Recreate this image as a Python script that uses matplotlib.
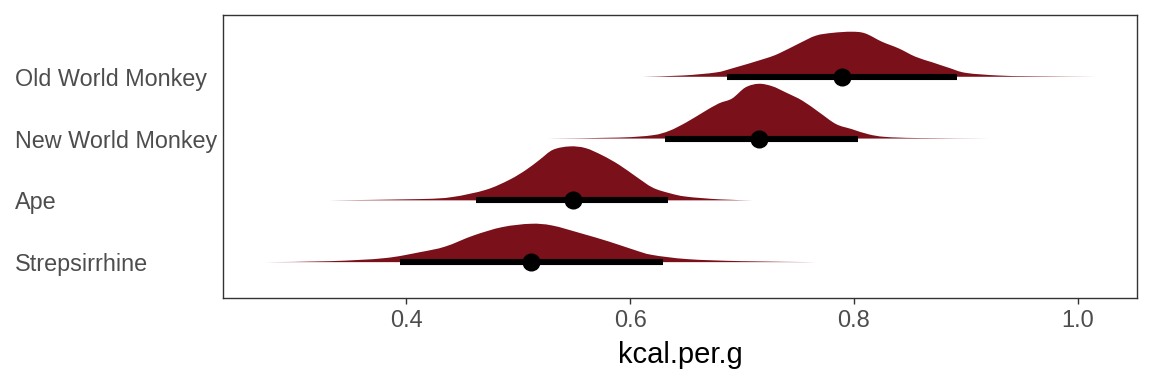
import matplotlib
matplotlib.use("Agg")
import matplotlib.pyplot as plt
from matplotlib.path import Path
from matplotlib.patches import PathPatch
import numpy as np

plt.rcParams['font.family'] = ['Liberation Sans', 'DejaVu Sans']

# categories, bottom to top
clades = ["Strepsirrhine", "Ape", "New World Monkey", "Old World Monkey"]

# density profiles (x value, relative thickness, max = 1)
strep_x = [0.2736, 0.3325, 0.3804, 0.4122, 0.4346, 0.460, 0.4856, 0.511, 0.530,
           0.5557, 0.581, 0.6036, 0.6196, 0.6514, 0.699, 0.766]
strep_d = [0.0, 0.018, 0.072, 0.18, 0.28, 0.48, 0.63, 0.69, 0.66,
           0.52, 0.37, 0.22, 0.13, 0.054, 0.018, 0.0]

ape_x = [0.331, 0.412, 0.441, 0.471, 0.492, 0.507, 0.519, 0.531, 0.546,
         0.560, 0.575, 0.590, 0.605, 0.620, 0.635, 0.650, 0.680, 0.709]
ape_d = [0.0, 0.023, 0.06, 0.19, 0.37, 0.55, 0.73, 0.91, 0.97,
         0.94, 0.81, 0.64, 0.43, 0.23, 0.13, 0.067, 0.018, 0.0]

nwm_x = [0.526, 0.590, 0.620, 0.635, 0.650, 0.665, 0.679, 0.691, 0.703, 0.715,
         0.727, 0.739, 0.754, 0.769, 0.784, 0.798, 0.813, 0.828, 0.858, 0.9205]
nwm_d = [0.0, 0.018, 0.06, 0.14, 0.29, 0.47, 0.63, 0.72, 0.92, 0.985,
         0.94, 0.83, 0.68, 0.47, 0.26, 0.17, 0.077, 0.03, 0.009, 0.0]

owm_x = [0.611, 0.647, 0.6765, 0.691, 0.721, 0.733, 0.751, 0.766, 0.781, 0.798,
         0.810, 0.825, 0.840, 0.855, 0.870, 0.885, 0.900, 0.929, 0.959, 1.016]
owm_d = [0.0, 0.023, 0.077, 0.15, 0.33, 0.42, 0.60, 0.74, 0.79, 0.81,
         0.78, 0.63, 0.51, 0.36, 0.26, 0.16, 0.07, 0.023, 0.009, 0.0]

# point estimate and interval
medians = [0.511, 0.549, 0.715, 0.789]
lower = [0.3946, 0.462, 0.631, 0.6863]
upper = [0.6297, 0.634, 0.804, 0.8917]

dens_x = [strep_x, ape_x, nwm_x, owm_x]
dens_d = [strep_d, ape_d, nwm_d, owm_d]

fill_col = "#7a1019"


def slab_path(xs, ys, y0):
    # smooth outline through the read points (catmull-rom as bezier), closed on baseline
    pts = list(zip(xs, ys))
    verts = [(xs[0], y0)]
    codes = [Path.MOVETO]
    n = len(pts)
    for k in range(n - 1):
        p0 = pts[max(k - 1, 0)]
        p1 = pts[k]
        p2 = pts[k + 1]
        p3 = pts[min(k + 2, n - 1)]
        c1 = (p1[0] + (p2[0] - p0[0]) / 6, max(y0, p1[1] + (p2[1] - p0[1]) / 6))
        c2 = (p2[0] - (p3[0] - p1[0]) / 6, max(y0, p2[1] - (p3[1] - p1[1]) / 6))
        verts += [c1, c2, p2]
        codes += [Path.CURVE4] * 3
    verts += [(xs[-1], y0), (xs[0], y0)]
    codes += [Path.LINETO, Path.CLOSEPOLY]
    return Path(verts, codes)


fig = plt.figure(figsize=(11.52, 3.84), dpi=100)
ax = fig.add_axes([0.1936, 0.224, 0.987 - 0.1936, 0.961 - 0.224])

for i, name in enumerate(clades):
    y0 = i + 1
    xs = np.array(dens_x[i])
    ys = y0 + np.array(dens_d[i]) * 0.9
    ax.add_patch(PathPatch(slab_path(xs, ys, y0), facecolor=fill_col,
                           edgecolor="none", zorder=2))
    ax.plot([lower[i], upper[i]], [y0, y0], color="black", lw=4.4,
            solid_capstyle="butt", zorder=3)
    ax.plot(medians[i], y0, "o", color="black", markersize=12, zorder=4)

ax.set_xlim(0.236, 1.053)
ax.set_ylim(0.42, 5.0)
ax.set_xticks([0.4, 0.6, 0.8, 1.0])
ax.set_xticklabels(["0.4", "0.6", "0.8", "1.0"])
ax.set_yticks([1, 2, 3, 4])
ax.set_yticklabels(clades, ha="left")

ax.tick_params(axis="x", length=4, width=1, color="#333333", labelsize=17,
               labelcolor="#4d4d4d", pad=5)
ax.tick_params(axis="y", length=0, labelsize=16.8, labelcolor="#4d4d4d", pad=150)
ax.set_xlabel("kcal.per.g", fontsize=21, color="black", labelpad=6)

for s in ax.spines.values():
    s.set_color("#333333")
    s.set_linewidth(1)

fig.savefig("out.png", dpi=100)
